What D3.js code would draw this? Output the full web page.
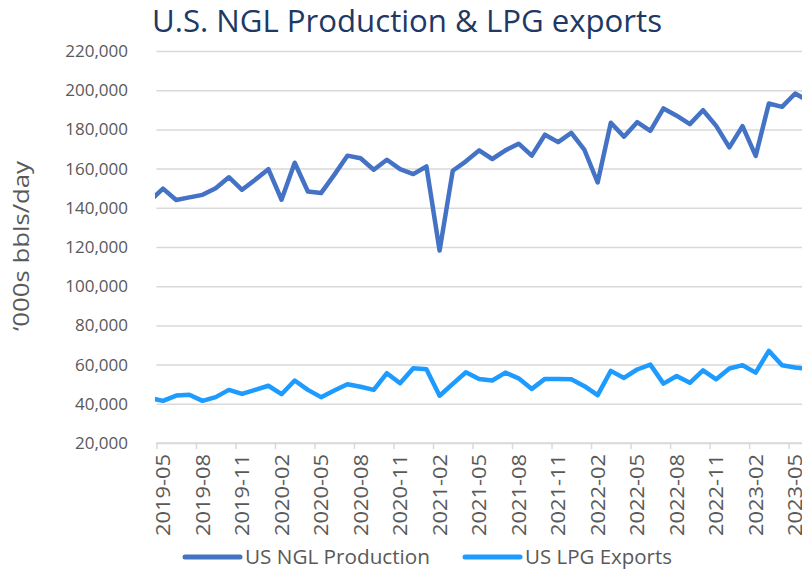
<!DOCTYPE html>
<html>
<head>
<meta charset="utf-8">
<script src="https://cdn.jsdelivr.net/npm/d3@7"></script>
<style>
  body { margin: 0; background: #fff; }
  svg { display: block; font-family: "Open Sans", sans-serif; }
</style>
</head>
<body>
<svg id="chart" width="802" height="571"></svg>
<script>
// months shown (first and last are only partly in view at the edges)
var months = ["2019-04","2019-05","2019-06","2019-07","2019-08","2019-09","2019-10","2019-11","2019-12",
  "2020-01","2020-02","2020-03","2020-04","2020-05","2020-06","2020-07","2020-08","2020-09","2020-10","2020-11","2020-12",
  "2021-01","2021-02","2021-03","2021-04","2021-05","2021-06","2021-07","2021-08","2021-09","2021-10","2021-11","2021-12",
  "2022-01","2022-02","2022-03","2022-04","2022-05","2022-06","2022-07","2022-08","2022-09","2022-10","2022-11","2022-12",
  "2023-01","2023-02","2023-03","2023-04","2023-05","2023-06"];

var nglProduction = [143500,149800,144000,145300,146600,150000,155600,149200,154300,159700,144100,163000,
  148300,147500,156800,166600,165300,159400,164500,159700,157200,161100,118200,158900,163700,169300,
  164900,169300,172700,166600,177300,173500,178200,169500,152900,183400,176300,183700,179300,190700,
  187000,182700,189800,181800,170800,181700,166500,193200,191500,198300,194500];

var lpgExports = [43000,41500,44200,44600,41500,43400,47100,45100,47100,49200,44900,51900,
  47100,43400,46800,50000,48700,47100,55600,50500,58100,57600,44100,50200,56100,52700,
  51900,55900,53000,47600,52700,52700,52500,49000,44400,56800,53200,57500,60000,50300,
  54200,50700,57100,52500,58000,59700,55900,67000,59700,58500,57800];

var xLabels = ["2019-05","2019-08","2019-11","2020-02","2020-05","2020-08","2020-11","2021-02","2021-05",
  "2021-08","2021-11","2022-02","2022-05","2022-08","2022-11","2023-02","2023-05"];

var yTicks = [20000,40000,60000,80000,100000,120000,140000,160000,180000,200000,220000];

var seriesNames = ["US NGL Production", "US LPG Exports"];
var seriesColors = ["#4472C4", "#1E9BFF"];

var svg = d3.select("#chart");
var W = 802;

// index of month -> x. month index 0 = 2019-05
var idx = function(m) { return months.indexOf(m) - 1; };
var xScale = d3.scaleLinear().domain([0, 48]).range([163, 795.2]);
var yScale = d3.scaleLinear().domain([20000, 220000]).range([443, 51]);

var left = xScale(-0.5), right = xScale(49.5);

// title
svg.append("text")
  .attr("x", 152).attr("y", 32)
  .attr("font-size", 31)
  .attr("fill", "#203864")
  .attr("textLength", 510).attr("lengthAdjust", "spacingAndGlyphs")
  .text("U.S. NGL Production & LPG exports");

// gridlines
var grid = svg.append("g")
  .attr("transform", "translate(" + left + ",0)")
  .call(d3.axisLeft(yScale).tickValues(yTicks).tickSize(-(right - left)).tickFormat(""));
grid.select(".domain").remove();
grid.selectAll("line").attr("stroke", "#D9D9D9").attr("stroke-width", 1.5);

// y labels
svg.append("g").selectAll("text")
  .data(yTicks).join("text")
  .attr("x", 128).attr("y", function(d) { return yScale(d) + 6; })
  .attr("text-anchor", "end")
  .attr("font-size", 17).attr("fill", "#595959")
  .text(d3.format(","));

svg.append("text")
  .attr("transform", "translate(29,246) rotate(-90)")
  .attr("text-anchor", "middle")
  .attr("font-size", 22).attr("fill", "#595959")
  .attr("textLength", 170).attr("lengthAdjust", "spacingAndGlyphs")
  .text("\u2018000s bbls/day");

// x axis line + tick marks between categories
var xa = svg.append("g")
  .attr("transform", "translate(0," + yScale(20000) + ")")
  .call(d3.axisBottom(xScale)
    .tickValues(xLabels.map(function(m) { return idx(m) - 0.5; }))
    .tickSize(6).tickSizeOuter(0).tickFormat(""));
xa.select(".domain").attr("d", "M" + left + ",0H" + right).attr("stroke", "#D9D9D9").attr("stroke-width", 1.5);
xa.selectAll(".tick line").attr("stroke", "#D9D9D9").attr("stroke-width", 1.5);

svg.append("g").selectAll("text")
  .data(xLabels).join("text")
  .attr("transform", function(m) { return "translate(" + (xScale(idx(m)) + 7) + ",454) rotate(-90)"; })
  .attr("text-anchor", "end")
  .attr("font-size", 20).attr("fill", "#595959")
  .attr("textLength", 82).attr("lengthAdjust", "spacingAndGlyphs")
  .text(function(m) { return m; });

// lines
svg.append("defs").append("clipPath").attr("id", "clip")
  .append("rect").attr("x", left - 1.5).attr("y", 0).attr("width", W).attr("height", 571);

var line = d3.line()
  .x(function(d, i) { return xScale(i - 1); })
  .y(function(d) { return yScale(d); });

var plot = svg.append("g").attr("clip-path", "url(#clip)");
[nglProduction, lpgExports].forEach(function(s, k) {
  plot.append("path")
    .datum(s)
    .attr("d", line)
    .attr("fill", "none")
    .attr("stroke", seriesColors[k])
    .attr("stroke-width", 4.5)
    .attr("stroke-linejoin", "round")
    .attr("stroke-linecap", "round");
});

// legend
var legX = [185, 465];
var legW = [185, 147];
var legend = svg.append("g");
seriesNames.forEach(function(n, k) {
  legend.append("line")
    .attr("x1", legX[k]).attr("x2", legX[k] + 55)
    .attr("y1", 557).attr("y2", 557)
    .attr("stroke", seriesColors[k]).attr("stroke-width", 5).attr("stroke-linecap", "round");
  legend.append("text")
    .attr("x", legX[k] + 60).attr("y", 564)
    .attr("font-size", 20).attr("fill", "#595959")
    .attr("textLength", legW[k]).attr("lengthAdjust", "spacingAndGlyphs")
    .text(n);
});
</script>
</body>
</html>
